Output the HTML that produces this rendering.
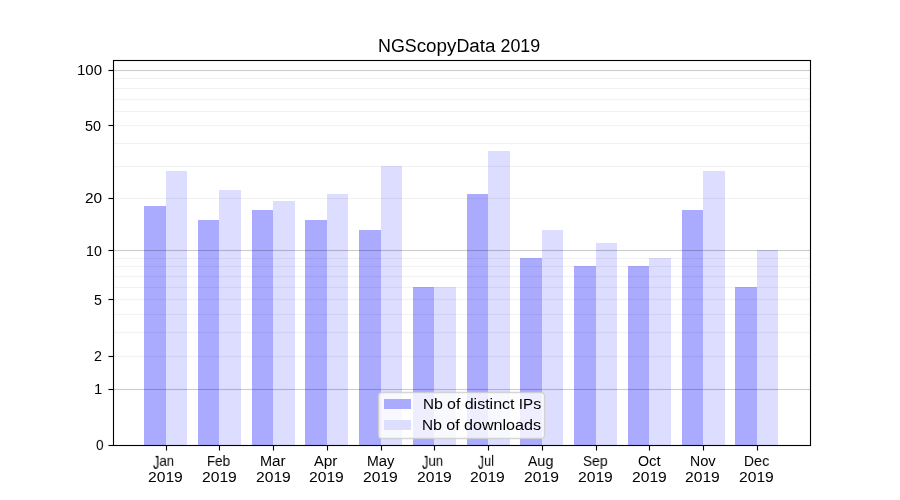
<!DOCTYPE html>
<html><head><meta charset="utf-8"><style>
html,body{margin:0;padding:0;background:#fff;}
body{width:900px;height:500px;position:relative;overflow:hidden;}
svg{position:absolute;left:0;top:0;}
.J{display:inline-block;transform:scaleY(1.28);transform-origin:50% 0.13em;}
.t{position:absolute;font-family:"Liberation Sans",sans-serif;color:#000;white-space:nowrap;line-height:1;transform-origin:0 0;will-change:transform;}
</style></head><body>
<svg width="900" height="500" viewBox="0 0 900 500" shape-rendering="crispEdges">
<rect x="144" y="206" width="22" height="239" fill="#aaaaff"/>
<rect x="166" y="171" width="21" height="274" fill="#ddddff"/>
<rect x="198" y="220" width="21" height="225" fill="#aaaaff"/>
<rect x="219" y="190" width="22" height="255" fill="#ddddff"/>
<rect x="252" y="210" width="21" height="235" fill="#aaaaff"/>
<rect x="273" y="201" width="22" height="244" fill="#ddddff"/>
<rect x="305" y="220" width="22" height="225" fill="#aaaaff"/>
<rect x="327" y="194" width="21" height="251" fill="#ddddff"/>
<rect x="359" y="230" width="22" height="215" fill="#aaaaff"/>
<rect x="381" y="166" width="21" height="279" fill="#ddddff"/>
<rect x="413" y="287" width="21" height="158" fill="#aaaaff"/>
<rect x="434" y="287" width="22" height="158" fill="#ddddff"/>
<rect x="467" y="194" width="21" height="251" fill="#aaaaff"/>
<rect x="488" y="151" width="22" height="294" fill="#ddddff"/>
<rect x="520" y="258" width="22" height="187" fill="#aaaaff"/>
<rect x="542" y="230" width="21" height="215" fill="#ddddff"/>
<rect x="574" y="266" width="22" height="179" fill="#aaaaff"/>
<rect x="596" y="243" width="21" height="202" fill="#ddddff"/>
<rect x="628" y="266" width="21" height="179" fill="#aaaaff"/>
<rect x="649" y="258" width="22" height="187" fill="#ddddff"/>
<rect x="682" y="210" width="21" height="235" fill="#aaaaff"/>
<rect x="703" y="171" width="22" height="274" fill="#ddddff"/>
<rect x="735" y="287" width="22" height="158" fill="#aaaaff"/>
<rect x="757" y="250" width="21" height="195" fill="#ddddff"/>
<rect x="113" y="389" width="697" height="1" fill="#000" fill-opacity="0.2"/><rect x="113" y="388" width="697" height="1" fill="#000" fill-opacity="0.012"/><rect x="113" y="390" width="697" height="1" fill="#000" fill-opacity="0.012"/>
<rect x="113" y="250" width="697" height="1" fill="#000" fill-opacity="0.2"/><rect x="113" y="249" width="697" height="1" fill="#000" fill-opacity="0.012"/><rect x="113" y="251" width="697" height="1" fill="#000" fill-opacity="0.012"/>
<rect x="113" y="70" width="697" height="1" fill="#000" fill-opacity="0.2"/><rect x="113" y="69" width="697" height="1" fill="#000" fill-opacity="0.012"/><rect x="113" y="71" width="697" height="1" fill="#000" fill-opacity="0.012"/>
<rect x="113" y="356" width="697" height="1" fill="#000" fill-opacity="0.051"/><rect x="113" y="355" width="697" height="1" fill="#000" fill-opacity="0.004"/><rect x="113" y="357" width="697" height="1" fill="#000" fill-opacity="0.004"/>
<rect x="113" y="332" width="697" height="1" fill="#000" fill-opacity="0.051"/><rect x="113" y="331" width="697" height="1" fill="#000" fill-opacity="0.004"/><rect x="113" y="333" width="697" height="1" fill="#000" fill-opacity="0.004"/>
<rect x="113" y="314" width="697" height="1" fill="#000" fill-opacity="0.051"/><rect x="113" y="313" width="697" height="1" fill="#000" fill-opacity="0.004"/><rect x="113" y="315" width="697" height="1" fill="#000" fill-opacity="0.004"/>
<rect x="113" y="299" width="697" height="1" fill="#000" fill-opacity="0.051"/><rect x="113" y="298" width="697" height="1" fill="#000" fill-opacity="0.004"/><rect x="113" y="300" width="697" height="1" fill="#000" fill-opacity="0.004"/>
<rect x="113" y="287" width="697" height="1" fill="#000" fill-opacity="0.051"/><rect x="113" y="286" width="697" height="1" fill="#000" fill-opacity="0.004"/><rect x="113" y="288" width="697" height="1" fill="#000" fill-opacity="0.004"/>
<rect x="113" y="276" width="697" height="1" fill="#000" fill-opacity="0.051"/><rect x="113" y="275" width="697" height="1" fill="#000" fill-opacity="0.004"/><rect x="113" y="277" width="697" height="1" fill="#000" fill-opacity="0.004"/>
<rect x="113" y="266" width="697" height="1" fill="#000" fill-opacity="0.051"/><rect x="113" y="265" width="697" height="1" fill="#000" fill-opacity="0.004"/><rect x="113" y="267" width="697" height="1" fill="#000" fill-opacity="0.004"/>
<rect x="113" y="258" width="697" height="1" fill="#000" fill-opacity="0.051"/><rect x="113" y="257" width="697" height="1" fill="#000" fill-opacity="0.004"/><rect x="113" y="259" width="697" height="1" fill="#000" fill-opacity="0.004"/>
<rect x="113" y="198" width="697" height="1" fill="#000" fill-opacity="0.051"/><rect x="113" y="197" width="697" height="1" fill="#000" fill-opacity="0.004"/><rect x="113" y="199" width="697" height="1" fill="#000" fill-opacity="0.004"/>
<rect x="113" y="166" width="697" height="1" fill="#000" fill-opacity="0.051"/><rect x="113" y="165" width="697" height="1" fill="#000" fill-opacity="0.004"/><rect x="113" y="167" width="697" height="1" fill="#000" fill-opacity="0.004"/>
<rect x="113" y="143" width="697" height="1" fill="#000" fill-opacity="0.051"/><rect x="113" y="142" width="697" height="1" fill="#000" fill-opacity="0.004"/><rect x="113" y="144" width="697" height="1" fill="#000" fill-opacity="0.004"/>
<rect x="113" y="125" width="697" height="1" fill="#000" fill-opacity="0.051"/><rect x="113" y="124" width="697" height="1" fill="#000" fill-opacity="0.004"/><rect x="113" y="126" width="697" height="1" fill="#000" fill-opacity="0.004"/>
<rect x="113" y="111" width="697" height="1" fill="#000" fill-opacity="0.051"/><rect x="113" y="110" width="697" height="1" fill="#000" fill-opacity="0.004"/><rect x="113" y="112" width="697" height="1" fill="#000" fill-opacity="0.004"/>
<rect x="113" y="99" width="697" height="1" fill="#000" fill-opacity="0.051"/><rect x="113" y="98" width="697" height="1" fill="#000" fill-opacity="0.004"/><rect x="113" y="100" width="697" height="1" fill="#000" fill-opacity="0.004"/>
<rect x="113" y="88" width="697" height="1" fill="#000" fill-opacity="0.051"/><rect x="113" y="87" width="697" height="1" fill="#000" fill-opacity="0.004"/><rect x="113" y="89" width="697" height="1" fill="#000" fill-opacity="0.004"/>
<rect x="113" y="78" width="697" height="1" fill="#000" fill-opacity="0.051"/><rect x="113" y="77" width="697" height="1" fill="#000" fill-opacity="0.004"/><rect x="113" y="79" width="697" height="1" fill="#000" fill-opacity="0.004"/>
<rect x="113" y="60" width="1" height="386" fill="#000"/>
<rect x="810" y="60" width="1" height="386" fill="#000"/>
<rect x="113" y="60" width="698" height="1" fill="#000"/>
<rect x="113" y="445" width="698" height="1" fill="#000"/>
<rect x="112" y="60" width="1" height="386" fill="#000" fill-opacity="0.055"/>
<rect x="114" y="61" width="1" height="384" fill="#000" fill-opacity="0.055"/>
<rect x="809" y="61" width="1" height="384" fill="#000" fill-opacity="0.055"/>
<rect x="811" y="60" width="1" height="386" fill="#000" fill-opacity="0.055"/>
<rect x="113" y="59" width="698" height="1" fill="#000" fill-opacity="0.055"/>
<rect x="114" y="61" width="696" height="1" fill="#000" fill-opacity="0.055"/>
<rect x="114" y="444" width="696" height="1" fill="#000" fill-opacity="0.055"/>
<rect x="113" y="446" width="698" height="1" fill="#000" fill-opacity="0.055"/>
<rect x="109" y="445" width="4" height="1" fill="#000"/><rect x="108" y="445" width="1" height="1" fill="#000" fill-opacity="0.5"/>
<rect x="108" y="444" width="5" height="1" fill="#000" fill-opacity="0.055"/><rect x="108" y="446" width="5" height="1" fill="#000" fill-opacity="0.055"/>
<rect x="109" y="389" width="4" height="1" fill="#000"/><rect x="108" y="389" width="1" height="1" fill="#000" fill-opacity="0.5"/>
<rect x="108" y="388" width="5" height="1" fill="#000" fill-opacity="0.055"/><rect x="108" y="390" width="5" height="1" fill="#000" fill-opacity="0.055"/>
<rect x="109" y="356" width="4" height="1" fill="#000"/><rect x="108" y="356" width="1" height="1" fill="#000" fill-opacity="0.5"/>
<rect x="108" y="355" width="5" height="1" fill="#000" fill-opacity="0.055"/><rect x="108" y="357" width="5" height="1" fill="#000" fill-opacity="0.055"/>
<rect x="109" y="299" width="4" height="1" fill="#000"/><rect x="108" y="299" width="1" height="1" fill="#000" fill-opacity="0.5"/>
<rect x="108" y="298" width="5" height="1" fill="#000" fill-opacity="0.055"/><rect x="108" y="300" width="5" height="1" fill="#000" fill-opacity="0.055"/>
<rect x="109" y="250" width="4" height="1" fill="#000"/><rect x="108" y="250" width="1" height="1" fill="#000" fill-opacity="0.5"/>
<rect x="108" y="249" width="5" height="1" fill="#000" fill-opacity="0.055"/><rect x="108" y="251" width="5" height="1" fill="#000" fill-opacity="0.055"/>
<rect x="109" y="198" width="4" height="1" fill="#000"/><rect x="108" y="198" width="1" height="1" fill="#000" fill-opacity="0.5"/>
<rect x="108" y="197" width="5" height="1" fill="#000" fill-opacity="0.055"/><rect x="108" y="199" width="5" height="1" fill="#000" fill-opacity="0.055"/>
<rect x="109" y="125" width="4" height="1" fill="#000"/><rect x="108" y="125" width="1" height="1" fill="#000" fill-opacity="0.5"/>
<rect x="108" y="124" width="5" height="1" fill="#000" fill-opacity="0.055"/><rect x="108" y="126" width="5" height="1" fill="#000" fill-opacity="0.055"/>
<rect x="109" y="70" width="4" height="1" fill="#000"/><rect x="108" y="70" width="1" height="1" fill="#000" fill-opacity="0.5"/>
<rect x="108" y="69" width="5" height="1" fill="#000" fill-opacity="0.055"/><rect x="108" y="71" width="5" height="1" fill="#000" fill-opacity="0.055"/>
<rect x="166" y="446" width="1" height="4" fill="#000"/><rect x="166" y="450" width="1" height="1" fill="#000" fill-opacity="0.5"/>
<rect x="165" y="446" width="1" height="5" fill="#000" fill-opacity="0.055"/><rect x="167" y="446" width="1" height="5" fill="#000" fill-opacity="0.055"/>
<rect x="219" y="446" width="1" height="4" fill="#000"/><rect x="219" y="450" width="1" height="1" fill="#000" fill-opacity="0.5"/>
<rect x="218" y="446" width="1" height="5" fill="#000" fill-opacity="0.055"/><rect x="220" y="446" width="1" height="5" fill="#000" fill-opacity="0.055"/>
<rect x="273" y="446" width="1" height="4" fill="#000"/><rect x="273" y="450" width="1" height="1" fill="#000" fill-opacity="0.5"/>
<rect x="272" y="446" width="1" height="5" fill="#000" fill-opacity="0.055"/><rect x="274" y="446" width="1" height="5" fill="#000" fill-opacity="0.055"/>
<rect x="327" y="446" width="1" height="4" fill="#000"/><rect x="327" y="450" width="1" height="1" fill="#000" fill-opacity="0.5"/>
<rect x="326" y="446" width="1" height="5" fill="#000" fill-opacity="0.055"/><rect x="328" y="446" width="1" height="5" fill="#000" fill-opacity="0.055"/>
<rect x="381" y="446" width="1" height="4" fill="#000"/><rect x="381" y="450" width="1" height="1" fill="#000" fill-opacity="0.5"/>
<rect x="380" y="446" width="1" height="5" fill="#000" fill-opacity="0.055"/><rect x="382" y="446" width="1" height="5" fill="#000" fill-opacity="0.055"/>
<rect x="434" y="446" width="1" height="4" fill="#000"/><rect x="434" y="450" width="1" height="1" fill="#000" fill-opacity="0.5"/>
<rect x="433" y="446" width="1" height="5" fill="#000" fill-opacity="0.055"/><rect x="435" y="446" width="1" height="5" fill="#000" fill-opacity="0.055"/>
<rect x="488" y="446" width="1" height="4" fill="#000"/><rect x="488" y="450" width="1" height="1" fill="#000" fill-opacity="0.5"/>
<rect x="487" y="446" width="1" height="5" fill="#000" fill-opacity="0.055"/><rect x="489" y="446" width="1" height="5" fill="#000" fill-opacity="0.055"/>
<rect x="542" y="446" width="1" height="4" fill="#000"/><rect x="542" y="450" width="1" height="1" fill="#000" fill-opacity="0.5"/>
<rect x="541" y="446" width="1" height="5" fill="#000" fill-opacity="0.055"/><rect x="543" y="446" width="1" height="5" fill="#000" fill-opacity="0.055"/>
<rect x="596" y="446" width="1" height="4" fill="#000"/><rect x="596" y="450" width="1" height="1" fill="#000" fill-opacity="0.5"/>
<rect x="595" y="446" width="1" height="5" fill="#000" fill-opacity="0.055"/><rect x="597" y="446" width="1" height="5" fill="#000" fill-opacity="0.055"/>
<rect x="649" y="446" width="1" height="4" fill="#000"/><rect x="649" y="450" width="1" height="1" fill="#000" fill-opacity="0.5"/>
<rect x="648" y="446" width="1" height="5" fill="#000" fill-opacity="0.055"/><rect x="650" y="446" width="1" height="5" fill="#000" fill-opacity="0.055"/>
<rect x="703" y="446" width="1" height="4" fill="#000"/><rect x="703" y="450" width="1" height="1" fill="#000" fill-opacity="0.5"/>
<rect x="702" y="446" width="1" height="5" fill="#000" fill-opacity="0.055"/><rect x="704" y="446" width="1" height="5" fill="#000" fill-opacity="0.055"/>
<rect x="757" y="446" width="1" height="4" fill="#000"/><rect x="757" y="450" width="1" height="1" fill="#000" fill-opacity="0.5"/>
<rect x="756" y="446" width="1" height="5" fill="#000" fill-opacity="0.055"/><rect x="758" y="446" width="1" height="5" fill="#000" fill-opacity="0.055"/>
<rect x="378.5" y="392.5" width="166.0" height="46.0" rx="3.6" ry="3.6" fill="#fff" fill-opacity="0.8" stroke="#ccc" stroke-opacity="0.8" stroke-width="1.39" shape-rendering="geometricPrecision"/>
<rect x="384" y="399" width="27" height="10" fill="#aaaaff"/>
<rect x="384" y="420" width="27" height="10" fill="#ddddff"/>
</svg>
<div class="t" style="left:377.85px;top:36.80px;font-size:16.67px;transform:scale(1.0717,1.0600)">NGS<span style="font-size:1.054em">copy</span>D<span style="font-size:1.054em">ata</span> 2019</div>
<div class="t" style="left:95.57px;top:437.78px;font-size:13.89px;transform:scale(0.9726,1.0600)">0</div>
<div class="t" style="left:93.50px;top:381.95px;font-size:13.89px;transform:scale(1.0689,1.0600)">1</div>
<div class="t" style="left:93.89px;top:348.68px;font-size:13.89px;transform:scale(1.0265,1.0600)">2</div>
<div class="t" style="left:93.87px;top:292.50px;font-size:13.89px;transform:scale(1.0250,1.0600)">5</div>
<div class="t" style="left:85.53px;top:243.63px;font-size:13.89px;transform:scale(1.0220,1.0600)">10</div>
<div class="t" style="left:84.92px;top:190.87px;font-size:13.89px;transform:scale(1.1110,1.0600)">20</div>
<div class="t" style="left:84.73px;top:118.56px;font-size:13.89px;transform:scale(1.0374,1.0600)">50</div>
<div class="t" style="left:76.98px;top:62.83px;font-size:13.89px;transform:scale(1.0799,1.0600)">100</div>
<div class="t" style="left:152.74px;top:452.77px;font-size:13.89px;transform:scale(0.9104,1.0600)"><span class="J">J</span><span style="font-size:1.054em">an</span></div>
<div class="t" style="left:147.85px;top:469.73px;font-size:13.89px;transform:scale(1.1281,1.0600)">2019</div>
<div class="t" style="left:206.63px;top:452.97px;font-size:13.89px;transform:scale(0.9391,1.0600)">F<span style="font-size:1.054em">eb</span></div>
<div class="t" style="left:202.08px;top:469.73px;font-size:13.89px;transform:scale(1.1281,1.0600)">2019</div>
<div class="t" style="left:259.53px;top:452.82px;font-size:13.89px;transform:scale(1.0451,1.0600)">M<span style="font-size:1.054em">ar</span></div>
<div class="t" style="left:255.80px;top:469.73px;font-size:13.89px;transform:scale(1.1281,1.0600)">2019</div>
<div class="t" style="left:314.03px;top:452.62px;font-size:13.89px;transform:scale(1.0540,1.0600)">A<span style="font-size:1.054em">pr</span></div>
<div class="t" style="left:308.55px;top:469.88px;font-size:13.89px;transform:scale(1.1285,1.0600)">2019</div>
<div class="t" style="left:366.67px;top:452.65px;font-size:13.89px;transform:scale(1.0168,1.0600)">M<span style="font-size:1.054em">ay</span></div>
<div class="t" style="left:363.29px;top:469.91px;font-size:13.89px;transform:scale(1.1285,1.0600)">2019</div>
<div class="t" style="left:422.00px;top:452.56px;font-size:13.89px;transform:scale(0.9136,1.0600)"><span class="J">J</span><span style="font-size:1.054em">un</span></div>
<div class="t" style="left:416.52px;top:469.73px;font-size:13.89px;transform:scale(1.1281,1.0600)">2019</div>
<div class="t" style="left:477.71px;top:452.79px;font-size:13.89px;transform:scale(0.8704,1.0600)"><span class="J">J</span><span style="font-size:1.054em">ul</span></div>
<div class="t" style="left:469.76px;top:469.73px;font-size:13.89px;transform:scale(1.1281,1.0600)">2019</div>
<div class="t" style="left:527.93px;top:452.58px;font-size:13.89px;transform:scale(0.9928,1.0600)">A<span style="font-size:1.054em">ug</span></div>
<div class="t" style="left:523.98px;top:469.77px;font-size:13.89px;transform:scale(1.1287,1.0600)">2019</div>
<div class="t" style="left:582.60px;top:452.65px;font-size:13.89px;transform:scale(0.9650,1.0600)">S<span style="font-size:1.054em">ep</span></div>
<div class="t" style="left:578.23px;top:469.87px;font-size:13.89px;transform:scale(1.1285,1.0600)">2019</div>
<div class="t" style="left:637.72px;top:452.60px;font-size:13.89px;transform:scale(1.0249,1.0600)">O<span style="font-size:1.054em">ct</span></div>
<div class="t" style="left:631.97px;top:469.73px;font-size:13.89px;transform:scale(1.1281,1.0600)">2019</div>
<div class="t" style="left:689.60px;top:452.62px;font-size:13.89px;transform:scale(1.0097,1.0600)">N<span style="font-size:1.054em">ov</span></div>
<div class="t" style="left:684.71px;top:469.73px;font-size:13.89px;transform:scale(1.1281,1.0600)">2019</div>
<div class="t" style="left:743.87px;top:452.59px;font-size:13.89px;transform:scale(0.9912,1.0600)">D<span style="font-size:1.054em">ec</span></div>
<div class="t" style="left:739.45px;top:469.73px;font-size:13.89px;transform:scale(1.1281,1.0600)">2019</div>
<div class="t" style="left:422.87px;top:395.79px;font-size:13.89px;transform:scale(1.0948,1.0600)">N<span style="font-size:1.054em">b</span> <span style="font-size:1.054em">of</span> <span style="font-size:1.054em">distinct</span> IP<span style="font-size:1.054em">s</span></div>
<div class="t" style="left:421.84px;top:416.91px;font-size:13.89px;transform:scale(1.1015,1.0600)">N<span style="font-size:1.054em">b</span> <span style="font-size:1.054em">of</span> <span style="font-size:1.054em">downloads</span></div>
</body></html>
